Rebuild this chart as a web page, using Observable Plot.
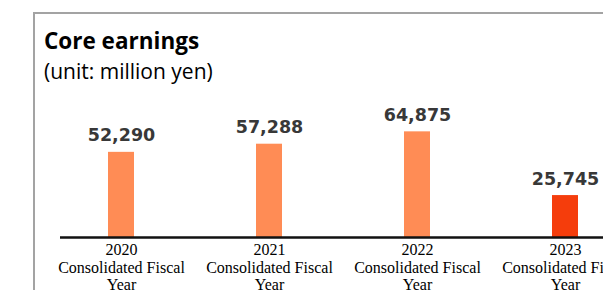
<!DOCTYPE html>
<html><head><meta charset="utf-8">
<script src="https://cdn.jsdelivr.net/npm/d3@7"></script>
<script src="https://cdn.jsdelivr.net/npm/@observablehq/plot@0.6"></script>
<style>
body{margin:0;width:603px;height:292px;overflow:hidden;position:relative;background:#fff;}
#frame{position:absolute;left:33px;top:12px;width:575px;height:276px;border-left:2px solid #a3a3a3;border-top:2px solid #a3a3a3;}
#title{position:absolute;left:44px;top:28px;font:bold 22.5px "Open Sans";line-height:26px;color:#000;white-space:nowrap;}
#sub{position:absolute;left:44px;top:59px;font:21px "Open Sans";line-height:24px;color:#000;white-space:nowrap;}
#chart{position:absolute;left:0;top:88px;}
</style></head>
<body>
<div id="frame"></div>
<div id="title">Core earnings</div>
<div id="sub">(unit: million yen)</div>
<div id="chart"></div>
<script>
const years = ["2020", "2021", "2022", "2023"];
const values = [52290, 57288, 64875, 25745];
const tickLabels = ["2020\nConsolidated Fiscal\nYear", "2021\nConsolidated Fiscal\nYear", "2022\nConsolidated Fiscal\nYear", "2023\nConsolidated Fiscal\nYear"];
const barColors = ["#ff8c55", "#ff8c55", "#ff8c55", "#f53d0c"];

const data = years.map((y, i) => ({year: y, value: values[i]}));
const tickMap = new Map(years.map((y, i) => [y, tickLabels[i]]));

const chart = Plot.plot({
  width: 603,
  height: 204,
  marginLeft: 60,
  marginRight: 0,
  marginTop: 35,
  marginBottom: 55,
  style: {background: "transparent", overflow: "visible"},
  x: {domain: years, range: [47, 639], paddingInner: 0.824, paddingOuter: 0.412, axis: null},
  y: {domain: [0, 70000], axis: null},
  color: {domain: years, range: barColors},
  marks: [
    Plot.barY(data, {x: "year", y: "value", fill: "year"}),
    Plot.text(data, {x: "year", y: "value", text: d => d3.format(",")(d.value), lineAnchor: "bottom", dy: -11,
      fontSize: 17.5, fontWeight: "bold", fontFamily: "DejaVu Sans", fill: "#383838"}),
    Plot.ruleY([0], {stroke: "#111", strokeWidth: 2.5}),
    Plot.axisX({tickSize: 0, tickPadding: 5, label: null, tickFormat: d => tickMap.get(d), fontSize: 16,
      fontFamily: "Liberation Serif", fill: "#000", lineHeight: 1.1, textOverflow: null})
  ]
});
document.getElementById("chart").appendChild(chart);
</script>
</body></html>
